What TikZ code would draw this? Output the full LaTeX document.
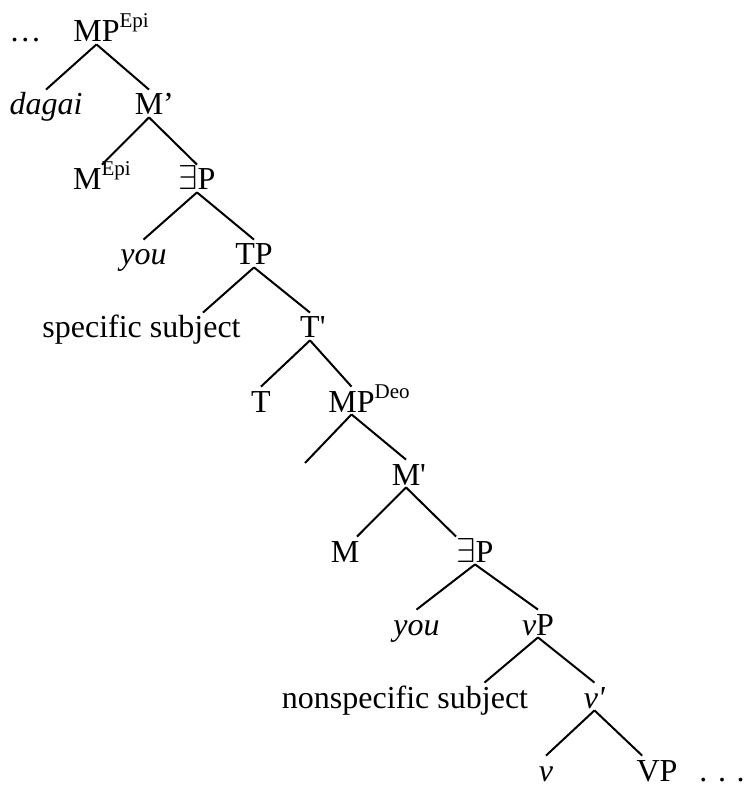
\documentclass[tikz,border=0pt]{standalone}
\usepackage{fontspec}
\setmainfont{Liberation Serif}
\newcommand\supx[1]{\raisebox{7pt}{\fontsize{10.5}{12}\selectfont #1}}
\newcommand\prm{\textquotesingle}

\begin{document}
\begin{tikzpicture}[x=0.5pt,y=-0.5pt,
    every node/.style={font=\fontsize{16}{19}\selectfont, inner sep=0pt,
      text height=12.5pt, text depth=1pt, anchor=base},
    branch/.style={line width=1pt}]
    \useasboundingbox (0,0) rectangle (743,785);
    \draw (25.5,42) node (dotsL) {…};
    \draw (96.5,42) node (MPepi) {MP\rlap{\supx{Epi}}};
    \draw (46,115) node (dagai) {\textit{dagai}};
    \draw (149,115) node (Mbar1) {M\rlap{’}};
    \draw (102,190) node (Mepi) {M\supx{Epi}};
    \draw (197,190) node (ExPa) {$\exists$P};
    \draw (143.5,265) node (youa) {\textit{you}};
    \draw (254,265) node (TP) {TP};
    \draw (141.5,338) node (spec) {specific subject};
    \draw (310,338) node (Tbar) {T\rlap{\prm}};
    \draw (261,412) node (T) {T};
    \draw (351.5,412) node (MPdeo) {MP\rlap{\supx{Deo}}};
    \coordinate (MPdeoSpec) at (305,463);
    \draw (406,485) node (Mbar2) {M\rlap{\prm}};
    \draw (345,562) node (M) {M};
    \draw (475,562) node (ExPb) {$\exists$P};
    \draw (416.5,635) node (youb) {\textit{you}};
    \draw (538,635) node (vP) {\textit{v}P};
    \draw (405,708) node (nonspec) {nonspecific subject};
    \draw (594.5,708) node (vbar) {\textit{v\prm}};
    \draw (546,781) node (v) {\textit{v}};
    \draw (657,781) node (VP) {VP};
    \draw (722,781) node (dotsR) {. . .};
    % branches
    \draw[branch] (MPepi.south) -- (dagai.north);
    \draw[branch] (MPepi.south) -- (Mbar1.north);
    \draw[branch] (Mbar1.south) -- (Mepi.north);
    \draw[branch] (Mbar1.south) -- (ExPa.north);
    \draw[branch] (ExPa.south) -- (youa.north);
    \draw[branch] (ExPa.south) -- (TP.north);
    \draw[branch] (TP.south) -- ([xshift=-19pt]spec.north east);
    \draw[branch] (TP.south) -- (Tbar.north);
    \draw[branch] (Tbar.south) -- (T.north);
    \draw[branch] (Tbar.south) -- (MPdeo.north);
    \draw[branch] (MPdeo.south) -- (MPdeoSpec);
    \draw[branch] (MPdeo.south) -- (Mbar2.north);
    \draw[branch] (Mbar2.south) -- ([xshift=6pt]M.north);
    \draw[branch] (Mbar2.south) -- (ExPb.north west);
    \draw[branch] (ExPb.south) -- (youb.north);
    \draw[branch] (ExPb.south) -- (vP.north);
    \draw[branch] (vP.south) -- ([xshift=-22pt]nonspec.north east);
    \draw[branch] (vP.south) -- (vbar.north);
    \draw[branch] (vbar.south) -- (v.north);
    \draw[branch] (vbar.south) -- ([xshift=3pt]VP.north west);
  \end{tikzpicture}
\end{document}
